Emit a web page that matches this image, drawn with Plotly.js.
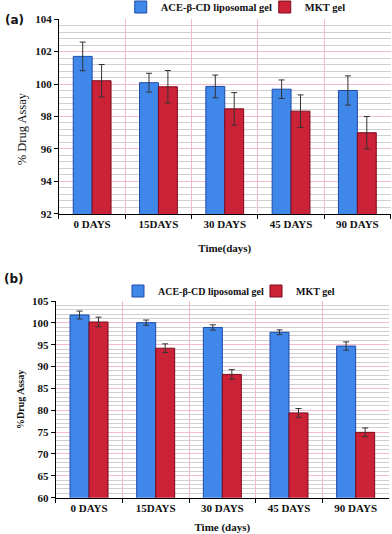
<!DOCTYPE html>
<html>
<head>
<meta charset="utf-8">
<script src="https://cdn.plot.ly/plotly-3.0.1.min.js"></script>
<style>
    html, body { margin: 0; padding: 0; background: #fff; }
    #chart { width: 392px; height: 534px; }
</style>
</head>
<body>
<div id="chart"></div>
<script>
// данные
const days = ['0 DAYS', '15DAYS', '30 DAYS', '45 DAYS', '90 DAYS'];

// (a)
const aceA = [101.7, 100.08, 99.85, 99.68, 99.6];
const aceErrA = [0.88, 0.58, 0.7, 0.57, 0.9];
const mktA = [100.2, 99.83, 98.47, 98.33, 97.0];
const mktErrA = [1.0, 1.0, 1.0, 1.0, 1.0];

// (b)
const aceB = [101.8, 100.05, 98.95, 97.85, 94.7];
const aceErrB = [0.9, 0.6, 0.6, 0.55, 0.95];
const mktB = [100.2, 94.2, 88.2, 79.4, 74.95];
const mktErrB = [1.1, 1.0, 1.1, 1.0, 1.0];

const aceName = 'ACE-β-CD liposomal gel';
const mktName = 'MKT gel';

const BLUE = '#3f88ea', BLUE_EDGE = '#1d4aa8';
const RED = '#cc2238', RED_EDGE = '#7d0a1a';
const SERIF = '"Liberation Serif", "DejaVu Serif", serif';

function barTrace(y, err, name, color, edge, xa, ya, legend) {
    return {
        type: 'bar', x: days, y: y, name: name,
        xaxis: xa, yaxis: ya, legend: legend,
        marker: { color: color, line: { color: edge, width: 1 } },
        error_y: { type: 'data', array: err, visible: true, color: '#333', thickness: 1, width: 3 }
    };
}

const data = [
    barTrace(aceA, aceErrA, aceName, BLUE, BLUE_EDGE, 'x', 'y', 'legend'),
    barTrace(mktA, mktErrA, mktName, RED, RED_EDGE, 'x', 'y', 'legend'),
    barTrace(aceB, aceErrB, aceName, BLUE, BLUE_EDGE, 'x2', 'y2', 'legend2'),
    barTrace(mktB, mktErrB, mktName, RED, RED_EDGE, 'x2', 'y2', 'legend2')
];

const tickFont = { family: SERIF, size: 11, color: '#111', weight: 'bold' };

function xAxis(domain, anchor, title, standoff) {
    return {
        domain: domain, anchor: anchor,
        tickson: 'boundaries', ticks: 'outside', ticklen: 4, tickcolor: '#000',
        showline: true, linecolor: '#000', linewidth: 1,
        showgrid: true, gridcolor: '#f2bccd', gridwidth: 1,
        tickfont: tickFont,
        title: { text: title, font: { family: SERIF, size: 11, color: '#111', weight: 'bold' }, standoff: standoff }
    };
}

function yAxis(domain, anchor, range, dtick, minorDtick) {
    return {
        domain: domain, anchor: anchor, range: range, dtick: dtick,
        ticks: 'outside', ticklen: 4, tickcolor: '#000',
        showline: true, linecolor: '#000', linewidth: 1,
        showgrid: true, gridcolor: '#f2bccd', gridwidth: 1,
        minor: { dtick: minorDtick, showgrid: true, gridcolor: '#cfcfcf', gridwidth: 1 },
        zeroline: false, tickfont: tickFont
    };
}

function legendAt(x, yPx, fontSize, entryWidth) {
    return {
        orientation: 'h', x: x, y: 1 - yPx / 534, xanchor: 'left', yanchor: 'middle',
        font: { family: SERIF, size: fontSize, color: '#111', weight: 'bold' },
        itemwidth: 30, entrywidth: entryWidth, tracegroupgap: 0,
        bgcolor: 'rgba(0,0,0,0)'
    };
}

// подписи осей Y — аннотациями, чтобы точно попасть в место
function yTitle(text, x, y, size, bold) {
    return {
        text: text, xref: 'paper', yref: 'paper', x: x, y: y,
        xanchor: 'center', yanchor: 'middle', textangle: -90, showarrow: false,
        font: { family: SERIF, size: size, color: '#111', weight: bold ? 'bold' : 'normal' }
    };
}

function panelLabel(text, x, y) {
    return {
        text: text, xref: 'paper', yref: 'paper', x: x, y: y, xanchor: 'left', yanchor: 'middle',
        showarrow: false, font: { family: '"DejaVu Sans", sans-serif', size: 12, color: '#111', weight: 'bold' }
    };
}

const layout = {
    width: 392, height: 534,
    // поля не раздвигаются легендой
    margin: { l: 0, r: 0, t: 0, b: 0, autoexpand: false },
    paper_bgcolor: '#fff', plot_bgcolor: '#fff',
    barmode: 'group', bargap: 0.43, bargroupgap: 0,
    xaxis: xAxis([0.1505, 0.9962], 'y', 'Time(days)', 15),
    yaxis: yAxis([0.5993, 0.9644], 'x', [92, 104], 2, 0.4),
    xaxis2: xAxis([0.1421, 0.9923], 'y2', 'Time (days)', 11),
    yaxis2: yAxis([0.068, 0.4363], 'x2', [60, 105], 5, 1),
    legend: legendAt(0.308, 7, 10.5, 99),
    legend2: legendAt(0.301, 291, 10, 93),
    annotations: [
        panelLabel('(a)', 0.008, 0.963),
        panelLabel('(b)', 0.005, 0.478),
        yTitle('% Drug Assay', 21.7 / 392, 1 - 128.5 / 534, 12.5, false),
        yTitle('%Drug Assay', 20 / 392, 1 - 400 / 534, 10, true)
    ]
};

Plotly.newPlot('chart', data, layout, { displayModeBar: false, staticPlot: true });
</script>
</body>
</html>
